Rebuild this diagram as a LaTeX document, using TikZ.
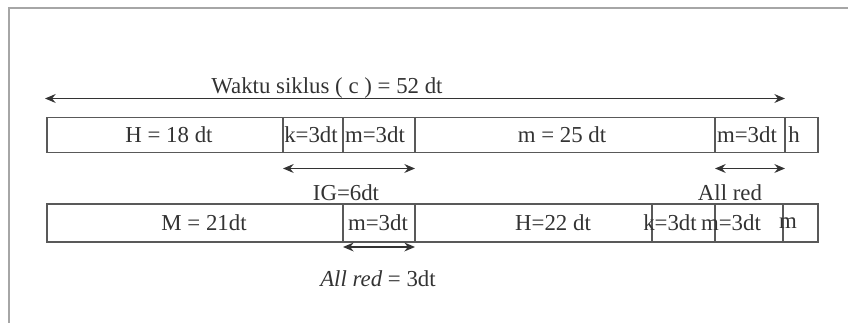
\documentclass[tikz,border=0pt]{standalone}
\usepackage{fontspec}
\setmainfont{Liberation Serif}
\usetikzlibrary{arrows.meta, positioning}
\tikzset{
    cell/.style={draw=black!65, line width=0.8pt, inner sep=0pt, outer sep=0pt},
    lbl/.style={font=\fontsize{13}{15}\selectfont, text=black!80, inner sep=1pt},
    span/.style={{Stealth[length=6pt,width=5pt]}-{Stealth[length=6pt,width=5pt]}, line width=1pt, draw=black!80},
}

\begin{document}
\begin{tikzpicture}[x=0.02cm, y=-0.02cm]
    \useasboundingbox (0,0) rectangle (848,323);
    \draw[gray!70, line width=1.2pt] (9,323) -- (9,8) -- (848,8);
    % fase 1
    \foreach \nm/\xa/\xb in {r1a/47/283, r1b/283/343, r1c/343/415, r1d/415/715, r1e/715/785, r1f/785/818} {
        \node[cell, minimum height=0.7cm, minimum width={(\xb-\xa)*0.02cm}] (\nm) at ({(\xa+\xb)/2},135) {};
    }
    \foreach \nm/\x/\t in {t1a/169/{H = 18 dt}, t1b/311/{k=3dt}, t1c/375/{m=3dt}, t1d/562/{m = 25 dt}, t1e/747/{m=3dt}, t1f/794/{h}} {
        \node[lbl] (\nm) at (\x,135) {\t};
    }
    % fase 2
    \foreach \nm/\xa/\xb in {r2a/47/343, r2b/343/415, r2c/415/652, r2d/652/715, r2e/715/783, r2f/783/818} {
        \node[cell, minimum height=0.76cm, minimum width={(\xb-\xa)*0.02cm}] (\nm) at ({(\xa+\xb)/2},223) {};
    }
    \foreach \nm/\x/\t in {t2a/204/{M = 21dt}, t2b/378/{m=3dt}, t2c/553/{H=22 dt}, t2d/670/{k=3dt}, t2e/731/{m=3dt}, t2f/788/{m}} {
        \node[lbl] (\nm) at (\x,223) {\t};
    }
    % panah
    \path (r1a.north west) ++(-2,-19) coordinate (c0) (r1e.north east) ++(0,-19) coordinate (c1);
    \draw[span] (c0) -- (c1);
    \node[lbl] (siklus) at (327,88) {Waktu siklus ( c ) = 52 dt};
    \path (r1b.south west) ++(0,16) coordinate (ig0) (r1c.south east) ++(0,16) coordinate (ig1);
    \draw[span] (ig0) -- (ig1);
    \node[lbl] (ig) at (346,193) {IG=6dt};
    \path (r1e.south west) ++(0,16) coordinate (ar0) (r1e.south east) ++(0,16) coordinate (ar1);
    \draw[span] (ar0) -- (ar1);
    \node[lbl] (allred) at (730,193) {All red};
    \path (r2b.south west) ++(0,5) coordinate (ar2) (r2b.south east) ++(0,5) coordinate (ar3);
    \draw[span] (ar2) -- (ar3);
    \node[lbl] (allred2) at (378,279) {\textit{All red} = 3dt};
\end{tikzpicture}
\end{document}
